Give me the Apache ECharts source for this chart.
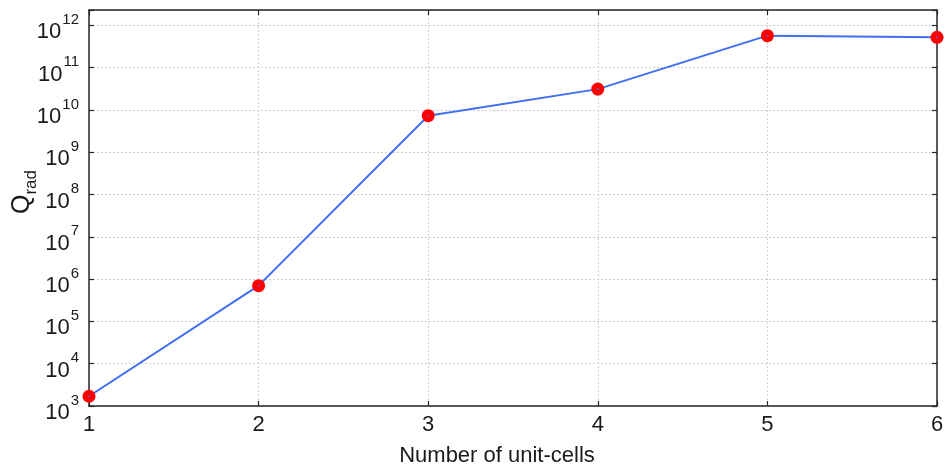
<!DOCTYPE html>
<html>
<head>
<meta charset="utf-8">
<script src="https://cdn.jsdelivr.net/npm/echarts@6/dist/echarts.min.js"></script>
<style>
  html, body { margin: 0; padding: 0; background: #fff; }
  #chart { width: 946px; height: 466px; }
</style>
</head>
<body>
<div id="chart"></div>
<script>
// Number of unit-cells along the x axis
const unitCells = [1, 2, 3, 4, 5, 6];
// Radiation Q factor for each structure size
const qRad = [1.7e3, 7.0e5, 7.3e9, 3.1e10, 5.7e11, 5.2e11];
// Axis ranges
const xRange = [1, 6];
const yRange = [1e3, 2.3e12];

const FONT = 'Liberation Sans, Arial, Helvetica, sans-serif';
const frameColor = '#262626';
const textColor = '#1a1a1a';

function isDecade(v) {
  const e = Math.log10(v);
  return Math.abs(e - Math.round(e)) < 1e-6;
}

// "10" with the exponent raised; the empty spacer token fixes the line height
const decadeLabel = {
  show: true,
  margin: 10,
  fontFamily: FONT,
  color: textColor,
  formatter: function (v) {
    if (!isDecade(v)) return '';
    return '{e| }{b|10}{s|' + Math.round(Math.log10(v)) + '}';
  },
  rich: {
    e: { fontSize: 1, lineHeight: 36, width: 0 },
    b: { fontSize: 22, fontFamily: FONT, color: textColor, verticalAlign: 'bottom', lineHeight: 24 },
    s: { fontSize: 15, fontFamily: FONT, color: textColor, verticalAlign: 'top', lineHeight: 20, padding: [5, 0, 0, 1] }
  }
};

const chart = echarts.init(document.getElementById('chart'), null, { renderer: 'canvas' });

chart.setOption({
  backgroundColor: '#ffffff',
  animation: false,
  grid: { left: 89, right: 9, top: 10, bottom: 60, containLabel: false, outerBoundsMode: 'none' },
  xAxis: [
    {
      type: 'value',
      min: xRange[0], max: xRange[1], interval: 1,
      position: 'bottom',
      name: 'Number of unit-cells',
      nameLocation: 'middle',
      nameGap: 39,
      nameMoveOverlap: false,
      nameTextStyle: { fontSize: 22, fontFamily: FONT, color: textColor, padding: [0, 32, 0, 0] },
      axisLine: { show: true, onZero: false, lineStyle: { color: frameColor, width: 1.5 } },
      axisTick: { show: true, inside: true, length: 5, lineStyle: { color: frameColor, width: 1.2 } },
      axisLabel: { show: true, margin: 8, fontSize: 22, fontFamily: FONT, color: textColor },
      splitLine: { show: true, lineStyle: { color: '#cfcfcf', type: [2, 2], width: 1 } }
    },
    {
      type: 'value',
      min: xRange[0], max: xRange[1], interval: 1,
      position: 'top',
      axisLine: { show: true, onZero: false, lineStyle: { color: frameColor, width: 1.5 } },
      axisTick: { show: true, inside: true, length: 5, lineStyle: { color: frameColor, width: 1.2 } },
      axisLabel: { show: false },
      splitLine: { show: false }
    }
  ],
  yAxis: [
    {
      type: 'log',
      logBase: 10,
      min: yRange[0], max: yRange[1],
      splitNumber: 10,
      position: 'left',
      name: '{q|Q}{r|rad}',
      nameLocation: 'middle',
      nameRotate: 90,
      nameGap: 49,
      nameMoveOverlap: false,
      nameTextStyle: {
        fontFamily: FONT, color: textColor, padding: [0, 0, 0, 32],
        rich: {
          q: { fontSize: 25, fontFamily: FONT, color: textColor, verticalAlign: 'top', lineHeight: 30 },
          r: { fontSize: 17, fontFamily: FONT, color: textColor, verticalAlign: 'bottom', lineHeight: 30 }
        }
      },
      axisLine: { show: true, onZero: false, lineStyle: { color: frameColor, width: 1.5 } },
      axisTick: { show: true, inside: true, length: 5, lineStyle: { color: frameColor, width: 1.2 } },
      axisLabel: decadeLabel,
      splitLine: { show: true, lineStyle: { color: '#cfcfcf', type: [2, 2], width: 1 } },
      minorTick: { show: false },
      minorSplitLine: { show: false }
    },
    {
      type: 'log',
      logBase: 10,
      min: yRange[0], max: yRange[1],
      splitNumber: 10,
      position: 'right',
      axisLine: { show: true, onZero: false, lineStyle: { color: frameColor, width: 1.5 } },
      axisTick: { show: true, inside: true, length: 5, lineStyle: { color: frameColor, width: 1.2 } },
      axisLabel: { show: false },
      splitLine: { show: false }
    }
  ],
  series: [
    {
      type: 'line',
      xAxisIndex: 0,
      yAxisIndex: 0,
      data: unitCells.map((n, i) => [n, qRad[i]]),
      lineStyle: { color: '#3f6ff2', width: 2 },
      symbol: 'circle',
      symbolSize: 13,
      itemStyle: { color: '#ff0000', borderWidth: 0 },
      z: 3
    },
    {
      // small centre dots on the markers
      type: 'scatter',
      xAxisIndex: 0,
      yAxisIndex: 0,
      data: unitCells.map((n, i) => [n, qRad[i]]),
      symbol: 'circle',
      symbolSize: 2,
      itemStyle: { color: '#3f6ff2' },
      silent: true,
      z: 4
    }
  ]
});
</script>
</body>
</html>
